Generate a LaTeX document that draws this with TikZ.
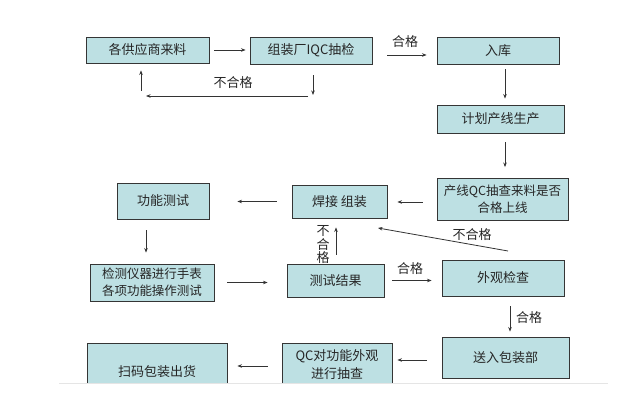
\documentclass[tikz,border=0pt]{standalone}
\usepackage{fontspec}
\setmainfont{Noto Sans CJK SC}
\usetikzlibrary{arrows.meta,calc}
\definecolor{boxfill}{HTML}{BDE0E3}
\definecolor{boxline}{HTML}{353535}
\definecolor{arrcol}{HTML}{333333}
\begin{document}
\begin{tikzpicture}[x=1pt,y=-1pt,
  stepbox/.style={draw=boxline,line width=0.9pt,fill=boxfill,inner sep=1pt,align=center,
     font=\fontsize{13}{17}\selectfont,text=black!85},
  arr/.style={draw=arrcol,line width=0.8pt,-{Stealth[length=4.5pt,width=3.5pt]}},
  lbl/.style={font=\fontsize{13}{14}\selectfont,text=black!85,inner sep=0pt}]
\useasboundingbox[fill=white] (0,0) rectangle (641,414);

\node[stepbox,minimum width=123pt,minimum height=26pt] (b1) at (147.5,50) {各供应商来料};
\node[stepbox,minimum width=122pt,minimum height=27pt] (b2) at (311,50.5) {组装厂IQC抽检};
\node[stepbox,minimum width=122pt,minimum height=27pt] (b3) at (498,50.5) {入库};
\node[stepbox,minimum width=127pt,minimum height=28pt] (b4) at (500.5,119) {计划产线生产};
\node[stepbox,minimum width=131pt,minimum height=42pt,font=\fontsize{12.5}{17}\selectfont] (b5) at (502.5,199.5) {产线QC抽查来料是否\\合格上线};
\node[stepbox,minimum width=95pt,minimum height=33pt] (b6) at (339.5,201.5) {焊接 组装};
\node[stepbox,minimum width=92pt,minimum height=36pt] (b7) at (163,201) {功能测试};
\node[stepbox,minimum width=124pt,minimum height=37pt,font=\fontsize{12.5}{17}\selectfont] (b8) at (152,282.5) {检测仪器进行手表\\各项功能操作测试};
\node[stepbox,minimum width=97pt,minimum height=33pt] (b9) at (335.5,280.5) {测试结果};
\node[stepbox,minimum width=122pt,minimum height=36pt] (b10) at (503,278) {外观检查};
\node[stepbox,minimum width=127pt,minimum height=41pt] (b11) at (505.5,357.5) {送入包装部};
\node[stepbox,minimum width=110pt,minimum height=44pt,font=\fontsize{13}{18}\selectfont] (b12) at (337,365) {QC对功能外观\\进行抽查};
\node[stepbox,minimum width=140pt,minimum height=58pt] (b13) at (157,372) {扫码包装出货};

% cut-off of the lower boxes
\fill[white] (40,383) rectangle (641,414);
\draw[black!10,line width=0.6pt] (59,383) -- (608,383);

% top row
\draw[arr,shorten <=5pt,shorten >=4pt] (b1.east) -- (b1.east -| b2.west);
\draw[arr,shorten <=15pt,shorten >=10pt] ([yshift=-4.5pt]b2.east) -- ([yshift=-4.5pt]b2.east -| b3.west);
\node[lbl] (l1) at (405,42) {合格};

% reject loop
\coordinate (r1) at (313,95);
\coordinate (r2) at (308,96);
\coordinate (r3) at (146,96);
\coordinate (r4) at (141,91);
\draw[arr,shorten <=11pt] ([xshift=2pt]b2.south) -- (r1);
\draw[arr] (r2) -- (r3);
\draw[arr,shorten >=7pt] (r4) -- (r4 |- b1.south);
\node[lbl] (l2) at (233,83) {不合格};

% right column
\draw[arr,shorten <=5pt,shorten >=6pt] ([xshift=7pt]b3.south) -- ([xshift=7pt]b3.south |- b4.north);
\draw[arr,shorten <=9pt,shorten >=11pt] ([xshift=4.5pt]b4.south) -- ([xshift=4.5pt]b4.south |- b5.north);

% middle row
\draw[arr,shorten <=14pt,shorten >=10pt] ([yshift=-2.5pt]b5.west) -- ([yshift=-2.5pt]b5.west -| b6.east);
\draw[arr,shorten <=15pt,shorten >=28pt] (b6.west) -- (b6.west -| b7.east);
\draw[arr,shorten <=11pt,shorten >=11pt] ([xshift=-17pt]b7.south) -- ([xshift=-17pt]b7.south |- b8.north);
\draw[arr,shorten <=13pt,shorten >=19pt] (b8.east) -- (b8.east -| b9.west);

% reject back to welding
\draw[arr,shorten <=9pt,shorten >=9pt] ([xshift=0.5pt]b9.north) -- ([xshift=0.5pt]b9.north |- b6.south);
\node[lbl,align=center,font=\fontsize{13}{13.5}\selectfont] (l3) at (323,245) {不\\合\\格};

\coordinate (d1) at (508,251);
\coordinate (d2) at (378,228);
\draw[arr] (d1) -- (d2);
\node[lbl] (l4) at (472,235) {不合格};

% to appearance check
\draw[arr,shorten <=8pt,shorten >=10pt] (b9.east) -- (b9.east -| b10.west);
\node[lbl] (l5) at (410,269) {合格};
\draw[arr,shorten <=10pt,shorten >=5pt] ([xshift=7pt]b10.south) -- ([xshift=7pt]b10.south |- b11.north);
\node[lbl] (l6) at (529,318) {合格};

% bottom row
\draw[arr,shorten <=15pt,shorten >=5pt] ([yshift=-2.5pt]b11.west) -- ([yshift=-2.5pt]b11.west -| b12.east);
\draw[arr,shorten <=14pt,shorten >=10pt] ([yshift=-1pt]b12.west) -- ([yshift=-1pt]b12.west -| b13.east);
\end{tikzpicture}
\end{document}
